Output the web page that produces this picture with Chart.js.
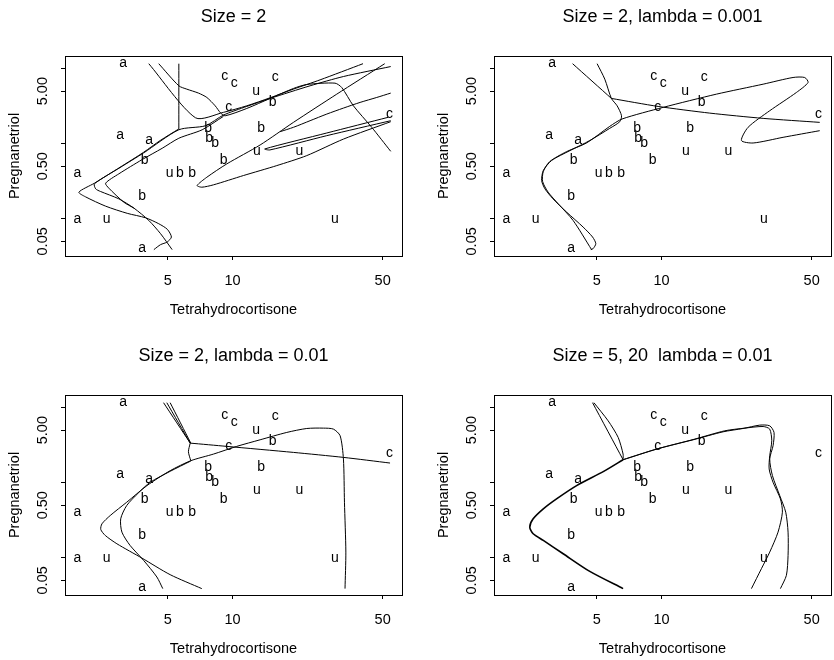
<!DOCTYPE html>
<html>
<head>
<meta charset="utf-8">
<script src="https://cdn.jsdelivr.net/npm/chart.js@4.4.1/dist/chart.umd.min.js"></script>
<style>
html,body{margin:0;padding:0;background:#fff;}
#wrap{position:relative;width:834px;height:660px;overflow:hidden;background:#fff;}
canvas{position:absolute;}
</style>
</head>
<body>
<div id="wrap">
<canvas id="c1" width="405" height="321" style="left:0px;top:0px"></canvas>
<canvas id="c2" width="405" height="321" style="left:429px;top:0px"></canvas>
<canvas id="c3" width="405" height="321" style="left:0px;top:339px"></canvas>
<canvas id="c4" width="405" height="321" style="left:429px;top:339px"></canvas>
</div>
<script>
// ---------- Cushings data (Tetrahydrocortisone, Pregnanetriol) by type ----------
const aX = [3.1, 3.0, 1.9, 3.8, 4.1, 1.9];
const aY = [11.7, 1.3, 0.1, 0.04, 1.1, 0.4];
const bX = [8.3, 3.8, 3.9, 7.8, 9.1, 15.4, 7.7, 6.5, 5.7, 13.6];
const bY = [1.0, 0.2, 0.6, 1.2, 0.6, 3.6, 1.6, 0.4, 0.4, 1.6];
const cX = [10.2, 9.2, 9.6, 53.8, 15.8];
const cY = [6.4, 7.9, 3.1, 2.5, 7.6];
const uX = [5.1, 12.9, 13.0, 2.6, 30.0, 20.5];
const uY = [0.4, 5.0, 0.8, 0.1, 0.1, 0.8];
const typeLetters = ['a', 'b', 'c', 'u'];

// ---------- axes ----------
const panelTitles = ['Size = 2', 'Size = 2, lambda = 0.001', 'Size = 2, lambda = 0.01', 'Size = 5, 20  lambda = 0.01'];
const xAxisTitle = 'Tetrahydrocortisone';
const yAxisTitle = 'Pregnanetriol';
const xTickValues = [5, 10, 50];
const xTickLabels = ['5', '10', '50'];
const yTickValues = [0.05, 0.1, 0.5, 1, 5, 10];
const yTickLabels = ['0.05', '', '0.50', '', '5.00', ''];
const xRange = [1.663, 61.5];
const yRange = [0.0319, 14.69];

// ---------- decision boundaries, panel 1: Size = 2 ----------
const p1Vert = [[5.63, 11.6], [5.63, 1.57]];
const p1Line1 = [[4.08, 11.6], [6.73, 2.21], [9.08, 2.61], [11.66, 3.19], [14.97, 4.08], [19.22, 5.32], [25.57, 7.07], [40.5, 11.6]];
const p1Line2 = [[4.54, 11.6], [5.63, 5.89], [6.13, 5.32], [6.95, 4.71], [7.60, 4.12], [8.31, 3.19], [8.82, 2.55], [9.25, 2.35], [11.66, 2.94], [14.97, 4.00], [19.22, 5.43], [22.17, 6.13], [30.0, 6.39], [32.25, 5.59], [36.54, 3.19], [44.46, 1.65], [54.5, 0.79]];
const p1Line3 = [[5.63, 1.57], [4.61, 1.10], [3.86, 0.767], [3.00, 0.485], [2.28, 0.2975], [1.93, 0.226], [2.07, 0.196], [2.57, 0.147], [3.24, 0.118], [3.94, 0.103], [4.54, 0.0858], [4.98, 0.0722], [5.20, 0.0571], [4.97, 0.049], [4.63, 0.0452], [4.31, 0.0388]];
const p1Line4 = [[54.5, 10.63], [32.84, 7.83], [22.97, 5.89], [14.97, 4.00], [11.66, 3.13], [9.08, 2.40], [7.49, 1.73], [5.63, 1.53], [3.86, 0.752], [3.00, 0.48], [2.28, 0.292], [2.31, 0.250], [2.43, 0.231], [2.96, 0.184], [3.48, 0.1385], [4.08, 0.095], [4.63, 0.0632], [5.24, 0.0388]];
const p1Line5 = [[9.08, 2.31], [7.23, 1.53], [5.63, 1.18], [4.71, 0.867], [3.80, 0.613], [2.96, 0.396], [2.57, 0.2975], [2.66, 0.2554], [3.12, 0.1664], [3.48, 0.1385]];
const p1Loop = [[51.1, 11.6], [30.57, 4.56], [19.22, 1.92], [13.45, 0.96], [9.41, 0.537], [7.60, 0.357], [6.85, 0.277], [7.20, 0.263], [8.16, 0.2827], [11.25, 0.376], [16.08, 0.51], [22.17, 0.693], [32.84, 1.15], [54.5, 1.96]];
const p1Wedge = [[52.97, 2.24], [27.47, 1.386], [14.14, 0.85], [14.92, 0.824], [27.47, 1.277], [54.5, 2.02]];
const p1Wavy = [[16.66, 1.443], [19.22, 1.65], [22.97, 2.02], [27.47, 2.476], [32.84, 2.975], [39.25, 3.54], [46.92, 4.12], [54.5, 4.71]];

// ---------- panel 2: Size = 2, lambda = 0.001 ----------
const p2Diag = [[3.86, 11.6], [5.85, 4.00]];
const p2Line1 = [[5.85, 4.00], [9.65, 3.13], [16.78, 2.55], [29.72, 2.17], [54.5, 1.92]];
const p2Line2 = [[5.02, 11.6], [5.45, 7.22], [5.85, 4.00], [6.22, 3.19], [6.52, 2.35], [6.40, 1.96], [5.75, 1.60], [4.64, 1.10], [3.75, 0.807], [3.08, 0.595], [2.82, 0.438], [2.77, 0.323], [2.87, 0.25], [3.13, 0.184], [3.62, 0.1226], [4.32, 0.0775], [4.78, 0.0571], [4.95, 0.0466], [4.81, 0.040], [4.69, 0.0388]];
const p2Line3 = [[54.5, 1.488], [36.8, 1.214], [26.7, 1.02], [23.56, 1.10], [25.3, 1.65], [31.9, 2.743], [42.45, 4.80], [48.1, 6.52], [46.4, 7.60], [40.96, 7.60], [29.72, 6.19], [18.02, 4.56], [10.18, 3.04], [6.56, 2.13], [5.75, 1.70], [4.48, 1.02], [3.62, 0.783], [3.02, 0.577], [2.82, 0.425], [2.80, 0.313], [2.97, 0.226], [3.31, 0.158], [3.88, 0.095], [4.73, 0.0388]];

// ---------- panel 3: Size = 2, lambda = 0.01 ----------
const p3LineA = [[4.78, 11.6], [6.36, 3.36]];
const p3LineB = [[4.95, 11.6], [6.36, 3.36]];
const p3LineC = [[5.13, 11.6], [6.40, 3.36]];
const p3LineD = [[6.36, 3.36], [9.41, 3.04], [19.22, 2.527], [32.84, 2.169], [54.1, 1.824]];
const p3LineE = [[6.36, 3.36], [6.24, 2.58], [6.40, 1.96]];
const p3LineF = [[33.4, 0.0388], [33.7, 0.1189], [33.2, 0.548], [32.84, 2.06], [31.7, 4.21], [29.5, 5.16], [26.5, 5.32], [22.17, 5.26], [17.89, 4.66], [13.45, 3.72], [10.47, 3.04], [8.16, 2.40], [6.40, 1.96], [5.13, 1.443], [4.00, 0.912], [3.22, 0.548], [2.70, 0.365], [2.47, 0.2827], [2.44, 0.2377], [2.56, 0.198], [2.90, 0.1534], [3.79, 0.099], [5.13, 0.0595], [7.20, 0.0388]];
const p3LineG = [[6.40, 1.94], [5.13, 1.414], [4.14, 1.01], [3.65, 0.729], [3.22, 0.495], [3.02, 0.3295], [3.06, 0.2192], [3.34, 0.1458], [3.86, 0.0922], [4.45, 0.0554], [4.74, 0.0388]];

// ---------- panel 4: Size = 5, 20  lambda = 0.01 ----------
const p4LineA = [[4.78, 11.6], [6.63, 2.02]];
const p4LineB = [[4.85, 11.6], [5.65, 6.65], [6.29, 4.0], [6.63, 2.40], [6.63, 2.02]];
const p4LineC = [[6.63, 2.02], [5.36, 1.40], [4.03, 0.912], [3.25, 0.607], [2.82, 0.447], [2.53, 0.3295], [2.44, 0.2554], [2.53, 0.2083], [2.82, 0.170], [3.49, 0.113], [4.64, 0.0658], [6.63, 0.0388]];
const p4LineE = [[6.63, 2.02], [9.48, 2.80], [14.04, 3.72], [19.36, 4.75], [23.98, 5.26], [28.67, 5.83], [31.9, 5.71], [33.4, 4.66], [33.06, 3.10], [31.9, 2.06], [32.84, 1.238], [35.51, 0.672], [37.87, 0.404], [38.83, 0.2192], [38.83, 0.1074], [38.14, 0.0583], [35.77, 0.0388]];
const p4LineF = [[6.63, 2.02], [9.65, 2.83], [14.29, 3.80], [19.71, 4.90], [24.41, 5.32], [29.72, 5.59], [31.9, 5.16], [32.6, 3.61], [31.9, 2.28], [31.7, 1.52], [33.06, 1.01], [35.77, 0.607], [36.54, 0.404], [34.87, 0.2192], [31.9, 0.1189], [29.18, 0.0715], [26.22, 0.0388]];

const panelCurves = [
  [p1Vert, p1Line1, p1Line2, p1Line3, p1Line4, p1Line5, p1Loop, p1Wedge, p1Wavy],
  [p2Diag, p2Line1, p2Line2, p2Line3],
  [p3LineA, p3LineB, p3LineC, p3LineD, p3LineE, p3LineF, p3LineG],
  [p4LineA, p4LineB, p4LineC, p4LineE, p4LineF]
];
const thickCurves = [p4LineC];

// ---------- drawing ----------
const FONT = '"Liberation Sans", Arial, Helvetica, sans-serif';

const decor = {
  id: 'decor',
  afterDatasetsDraw(chart) {
    const ctx = chart.ctx, a = chart.chartArea;
    ctx.save();
    ctx.fillStyle = '#000';
    ctx.textAlign = 'center';
    ctx.textBaseline = 'middle';
    ctx.font = '14px ' + FONT;
    chart.data.datasets.forEach((ds, i) => {
      if (!ds.letter) return;
      chart.getDatasetMeta(i).data.forEach(el => ctx.fillText(ds.letter, el.x, el.y));
    });
    ctx.strokeStyle = '#000';
    ctx.lineWidth = 1;
    ctx.strokeRect(Math.round(a.left) + 0.5, Math.round(a.top) + 0.5, Math.round(a.right - a.left), Math.round(a.bottom - a.top));
    const ys = chart.scales.y;
    ctx.font = '14.5px ' + FONT;
    yTickValues.forEach((v, k) => {
      const lab = yTickLabels[k];
      if (!lab) return;
      const py = ys.getPixelForValue(v);
      ctx.save();
      ctx.translate(43, py);
      ctx.rotate(-Math.PI / 2);
      ctx.fillText(lab, 0, 0);
      ctx.restore();
    });
    ctx.restore();
  }
};

function pts(arr) { return arr.map(p => ({ x: p[0], y: p[1] })); }
function zipPts(xs, ys) { return xs.map((x, i) => ({ x: x, y: ys[i] })); }

function makeChart(id, k) {
  const datasets = [];
  const letterData = [[aX, aY], [bX, bY], [cX, cY], [uX, uY]];
  letterData.forEach((d, i) => {
    datasets.push({ data: zipPts(d[0], d[1]), letter: typeLetters[i], showLine: false, pointRadius: 0, pointHoverRadius: 0 });
  });
  panelCurves[k].forEach(c => {
    datasets.push({
      data: pts(c), showLine: true, pointRadius: 0, pointHoverRadius: 0,
      borderColor: '#000', borderWidth: thickCurves.includes(c) ? 1.6 : 1, tension: 0.25, fill: false
    });
  });
  new Chart(document.getElementById(id), {
    type: 'scatter',
    data: { datasets },
    plugins: [decor],
    options: {
      responsive: false, animation: false, devicePixelRatio: 1,
      layout: { padding: { left: 0, right: 3, top: 0, bottom: 0 } },
      plugins: {
        legend: { display: false }, tooltip: { enabled: false },
        title: { display: true, fullSize: false, align: 'center', text: panelTitles[k], color: '#000', font: { family: FONT, size: 18, weight: 'normal', lineHeight: 1.2 }, padding: { top: 6, bottom: 28.4 } }
      },
      scales: {
        x: {
          type: 'logarithmic', position: 'bottom', min: xRange[0], max: xRange[1],
          afterBuildTicks: s => { s.ticks = xTickValues.map(v => ({ value: v })); },
          afterFit: s => { s.height = 65; },
          ticks: { autoSkip: false, maxRotation: 0, minRotation: 0, padding: 12, color: '#000', font: { family: FONT, size: 14.5 }, callback: v => { const i = xTickValues.indexOf(v); return i >= 0 ? xTickLabels[i] : ''; } },
          grid: { display: true, drawOnChartArea: false, drawTicks: true, tickLength: 4, color: '#000', lineWidth: 1 },
          border: { display: false },
          title: { display: true, text: xAxisTitle, color: '#000', font: { family: FONT, size: 14.5, lineHeight: 1.2 }, padding: { top: 0, bottom: 2.5 } }
        },
        y: {
          type: 'logarithmic', position: 'left', min: yRange[0], max: yRange[1],
          afterBuildTicks: s => { s.ticks = yTickValues.map(v => ({ value: v })); },
          afterFit: s => { s.width = 65; },
          ticks: { display: false },
          grid: { display: true, drawOnChartArea: false, drawTicks: true, tickLength: 4, color: '#000', lineWidth: 1 },
          border: { display: false },
          title: { display: true, text: yAxisTitle, color: '#000', font: { family: FONT, size: 14.5, lineHeight: 1.2 }, padding: { top: 6.3, bottom: 0 } }
        }
      }
    }
  });
}
makeChart('c1', 0);
makeChart('c2', 1);
makeChart('c3', 2);
makeChart('c4', 3);
</script>
</body>
</html>
